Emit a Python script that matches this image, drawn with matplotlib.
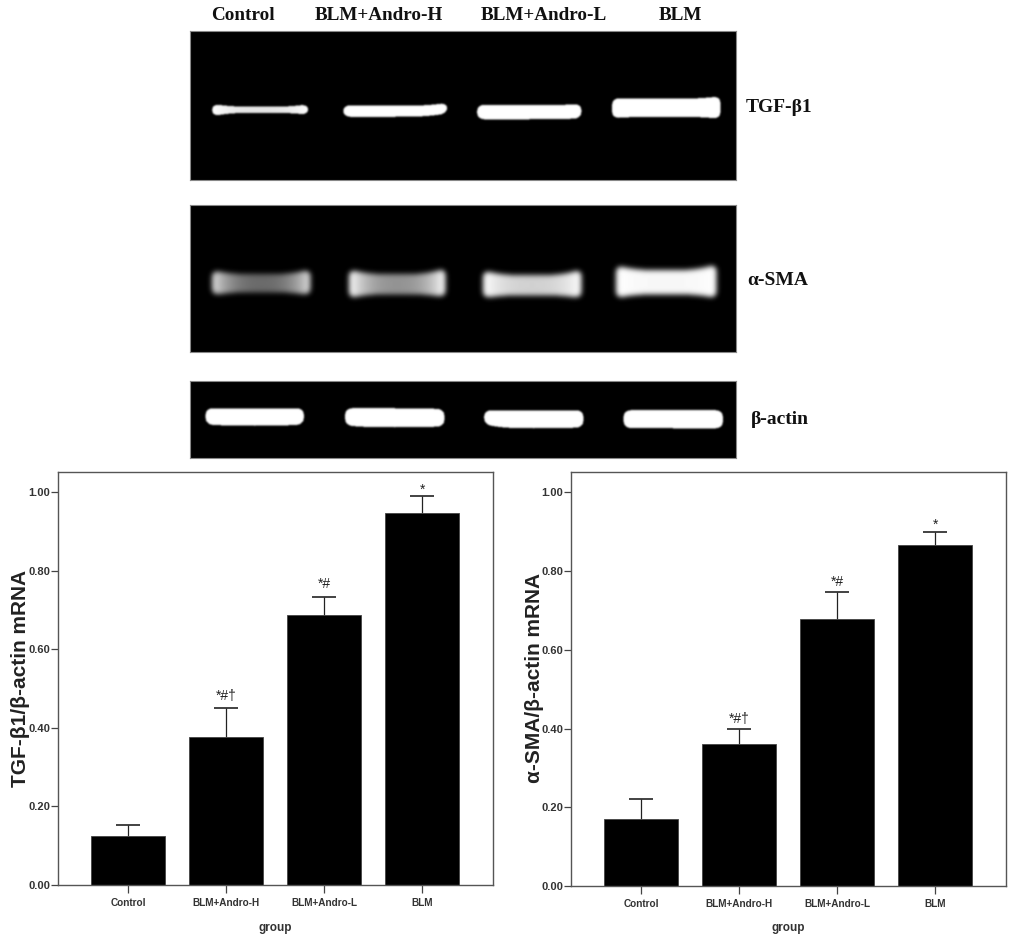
import matplotlib
matplotlib.use("Agg")
import matplotlib.pyplot as plt
import numpy as np

W, H = 1024, 951

# chart data
groups = ["Control", "BLM+Andro-H", "BLM+Andro-L", "BLM"]
tgf_vals = [0.124, 0.378, 0.687, 0.948]
tgf_err = [0.030, 0.072, 0.047, 0.042]
sma_vals = [0.169, 0.361, 0.679, 0.866]
sma_err = [0.053, 0.039, 0.069, 0.033]
tgf_marks = ["", "*#\u2020", "*#", "*"]
sma_marks = ["", "*#\u2020", "*#", "*"]
tick_vals = [0.0, 0.2, 0.4, 0.6, 0.8, 1.0]
tick_labels = ["0.00", "0.20", "0.40", "0.60", "0.80", "1.00"]

# gel bands, read in picture pixels: left, right, tops(l,m,r), bottoms(l,m,r), brightness(edge,mid)
tgf_x0 = [212, 343, 477, 612]
tgf_x1 = [308, 447, 581, 720]
tgf_top = [(103.5, 106.5, 104), (105, 105.5, 102.5), (104.5, 105, 103.5), (98, 98.5, 96)]
tgf_bot = [(116, 112.5, 114.5), (116.5, 116.5, 113), (119, 119, 118), (118, 116.5, 118.5)]
tgf_lum = [(1, 0.9), (1, 1), (1, 1), (1, 1)]

sma_x0 = [212, 349, 483, 616]
sma_x1 = [310, 445, 581, 716]
sma_top = [(270, 274, 269), (269, 274, 268), (270, 275, 269), (265, 270, 264)]
sma_bot = [(295, 292, 295), (298, 294, 297), (298, 295, 298), (298, 294, 298)]
sma_lum = [(0.88, 0.42), (1, 0.58), (1, 0.82), (1, 0.97)]

act_x0 = [205.5, 345, 484, 623.5]
act_x1 = [303.5, 444, 583, 722.5]
act_top = [(408, 408.5, 408), (408, 408, 409), (410, 410.5, 410), (410, 410, 410)]
act_bot = [(424, 425.5, 424), (425, 427, 426), (424, 428, 427), (427.5, 428, 428)]
act_lum = [(1, 1), (1, 1), (1, 1), (1, 1)]

panel_labels = ["TGF-\u03b21", "\u03b1-SMA", "\u03b2-actin"]

sans = ["Liberation Sans", "DejaVu Sans"]
serif = ["Liberation Serif", "DejaVu Serif"]

fig = plt.figure(figsize=(W / 100, H / 100), dpi=100)


def px_axes(x0, y0, x1, y1):
    return fig.add_axes([x0 / W, 1 - y1 / H, (x1 - x0) / W, (y1 - y0) / H])


def px_text(x, y, s, **kw):
    fig.text(x / W, 1 - y / H, s, ha="center", va="center", **kw)


def blur(img, sigma):
    r = int(sigma * 3)
    k = np.exp(-0.5 * (np.arange(-r, r + 1) / sigma) ** 2)
    k = k / k.sum()
    img = np.apply_along_axis(lambda v: np.convolve(v, k, mode="same"), 0, img)
    img = np.apply_along_axis(lambda v: np.convolve(v, k, mode="same"), 1, img)
    return img


def gel(y0, y1, x0s, x1s, tops, bots, lums, sigma, edge):
    ax = px_axes(190, y0, 736, y1)
    xs = np.arange(190, 736, 0.5)
    ys = np.arange(y0, y1, 0.5)
    xx, yy = np.meshgrid(xs, ys)
    img = np.zeros(xx.shape)
    for a, b, t, d, l in zip(x0s, x1s, tops, bots, lums):
        mid = (a + b) / 2
        u = np.clip(np.abs(xx - mid) / ((b - a) / 2), 0, 1)
        # sides of the band are rounded off
        r = 7.0
        e = np.clip(np.minimum(xx - a, b - xx) / r, 0, 1)
        inset = r * (1 - np.sqrt(1 - (1 - e) ** 2)) * 0.8
        t_side = np.where(xx < mid, t[0], t[2])
        d_side = np.where(xx < mid, d[0], d[2])
        top = t[1] + (t_side - t[1]) * u ** 3 + inset
        bot = d[1] + (d_side - d[1]) * u ** 3 - inset
        # band is brightest close to its ends and falls quickly to the middle value
        lum = l[1] + (l[0] - l[1]) * u ** 2.5
        inside = (xx >= a) & (xx <= b) & (yy >= top) & (yy <= bot)
        img[inside] = lum[inside]
    img = blur(img, sigma * 2)
    ax.imshow(img, cmap="gray", vmin=0, vmax=1, aspect="auto", extent=[190, 736, y1, y0], interpolation="bilinear")
    ax.set_xticks([])
    ax.set_yticks([])
    for s in ax.spines.values():
        s.set_color(edge)
        s.set_linewidth(0.8)
    return ax


gel(31, 180, tgf_x0, tgf_x1, tgf_top, tgf_bot, tgf_lum, 0.8, "#888888")
gel(205, 352, sma_x0, sma_x1, sma_top, sma_bot, sma_lum, 2.6, "#888888")
gel(381, 458, act_x0, act_x1, act_top, act_bot, act_lum, 0.8, "#888888")

for x, g in zip([243, 379, 544, 680], groups):
    px_text(x, 16, g, family=serif, weight="bold", fontsize=13.8, color="#111111")
for y, x, s in zip([108, 281, 420], [779, 778, 779.5], panel_labels):
    px_text(x, y, s, family=serif, weight="bold", fontsize=14, color="#111111")


def bars(rect, vals, err, marks, off, ylab, ylab_x, group_x):
    x0, y0, x1, y1 = rect
    ax = px_axes(x0, y0, x1, y1)
    pos = np.arange(len(vals))
    tops = np.array(vals) + np.array(err)
    ax.bar(pos, vals, width=0.755, color="black", edgecolor="#444444", linewidth=0.6, zorder=2)
    ax.vlines(pos, vals, tops, color="#222222", linewidth=0.9, zorder=1)
    ax.plot(pos, tops, linestyle="none", marker="_", markersize=17, markeredgewidth=1.2, color="#222222", zorder=1)
    ax.set_xlim(-0.714, 3.724)
    ax.set_ylim(0, 1.052)
    ax.set_yticks(tick_vals)
    ax.set_yticklabels(tick_labels, family=sans, weight="bold", fontsize=8, color="#333333")
    ax.set_xticks(pos)
    ax.set_xticklabels(groups, family=sans, weight="bold", fontsize=7.2, color="#333333")
    ax.tick_params(axis="x", length=6, width=0.9, color="#444444", pad=3.5)
    ax.tick_params(axis="y", length=5, width=0.9, color="#444444", pad=0.5)
    for s in ax.spines.values():
        s.set_color("#555555")
        s.set_linewidth(1.0)
    for p, t, m, o in zip(pos, tops, marks, off):
        if m:
            ax.annotate(m, (p, t), xytext=(0, o), textcoords="offset pixels", ha="center",
                        va="center", family=sans, fontsize=10, color="#222222")
    px_text(ylab_x, 678, ylab, family=sans, weight="bold", fontsize=15, rotation=90, color="#222222")
    px_text(group_x, 928.5, "group", family=sans, weight="bold", fontsize=8.5, color="#333333")
    return ax


bars((58, 472, 493, 885), tgf_vals, tgf_err, tgf_marks, [0, 12, 13, 7],
     "TGF-\u03b21/\u03b2-actin mRNA", 21, 275)
bars((571, 472, 1006, 886), sma_vals, sma_err, sma_marks, [0, 10, 10, 7],
     "\u03b1-SMA/\u03b2-actin mRNA", 534.5, 788)

fig.savefig("out.png", dpi=100, facecolor="white")
